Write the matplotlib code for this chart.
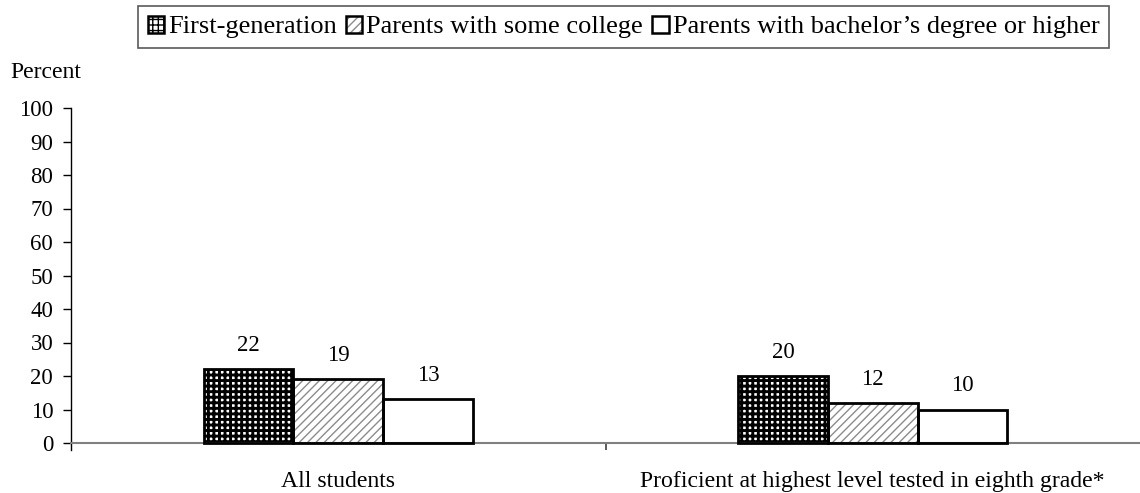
import matplotlib
matplotlib.use("Agg")
import matplotlib.pyplot as plt
import numpy as np
from matplotlib.patches import Patch
from matplotlib.legend_handler import HandlerTuple

plt.rcParams["font.family"] = ["Liberation Serif", "DejaVu Serif"]

categories = ["All students", "Proficient at highest level tested in eighth grade*"]
series_names = ["First-generation", "Parents with some college",
                "Parents with bachelor\u2019s degree or higher"]
first_gen = [22, 20]
some_college = [19, 12]
bachelor = [13, 10]
series_values = [first_gen, some_college, bachelor]
y_ticks = list(range(0, 101, 10))

FS_TICK = 16.5
FS_VALUE = 16.5
FS_CAT = 17.1
FS_LEG = 19

W, H = 1140, 493
fig = plt.figure(figsize=(W / 100, H / 100), dpi=100)
ax = fig.add_axes([71 / W, 1 - 449.7 / H, 1 - 71 / W, (449.7 - 108) / H])

x = np.arange(len(categories))
bw = 0.168
offsets = [-bw, 0, bw]

# hatch styles: (hatch, hatch colour, hatch linewidth)
styles = [("+++", "black", 2.1), ("////", "#8c8c8c", 1.0), (None, None, 1.0)]

for vals, off, (hatch, hcol, hlw) in zip(series_values, offsets, styles):
    if hatch:
        with plt.rc_context({"hatch.linewidth": hlw}):
            ax.bar(x + off, vals, bw, facecolor="white", edgecolor=hcol,
                   hatch=hatch, linewidth=0, zorder=2)
    ax.bar(x + off, vals, bw, fill=False, edgecolor="black",
           linewidth=2.0, zorder=3)
    for xi, v in zip(x + off, vals):
        ax.annotate(f"{v}", xy=(xi, v), xytext=(0, 13), textcoords="offset points",
                    ha="center", va="baseline", fontsize=FS_VALUE)

ax.set_xlim(-0.5, 1.5)
ax.set_ylim(-2, 100)
ax.set_yticks(y_ticks)
ax.set_yticklabels([str(t) for t in y_ticks], fontsize=FS_TICK)
ax.tick_params(axis="y", length=5.8, width=1, pad=7, direction="out", colors="black")

ax.set_xticks([0.5])
ax.set_xticklabels([""])
ax.tick_params(axis="x", length=5, width=1.2, color="#404040", direction="out")

for s in ["top", "right"]:
    ax.spines[s].set_visible(False)
ax.spines["bottom"].set_position(("data", 0))
ax.spines["bottom"].set_color("#808080")
ax.spines["bottom"].set_linewidth(1.5)
ax.spines["left"].set_color("black")
ax.spines["left"].set_linewidth(1)

for xi, lab in zip(x, categories):
    ax.annotate(lab, xy=(xi, 0), xytext=(0, -31.5), textcoords="offset points",
                ha="center", va="baseline", fontsize=FS_CAT)

fig.text(10 / W, 1 - 78 / H, "Percent", fontsize=FS_CAT, va="baseline", ha="left")

# legend handles: hatched fill overlaid by a black outline
handles = []
for hatch, hcol, hlw in styles:
    parts = []
    if hatch:
        with plt.rc_context({"hatch.linewidth": hlw}):
            parts.append(Patch(facecolor="white", edgecolor=hcol, hatch=hatch, linewidth=0))
    parts.append(Patch(fill=False, edgecolor="black", linewidth=1.8))
    handles.append(tuple(parts))

leg = fig.legend(handles, series_names, loc="center", bbox_to_anchor=(623.5 / W, 1 - 27 / H),
                 ncol=3, fontsize=FS_LEG, frameon=True, fancybox=False, shadow=False,
                 handlelength=0.62, handleheight=0.62, handletextpad=0.15,
                 columnspacing=0.35, borderpad=0.35, borderaxespad=0,
                 handler_map={tuple: HandlerTuple(ndivide=1, pad=0)})
leg.get_frame().set_edgecolor("#303030")
leg.get_frame().set_linewidth(1.2)

fig.savefig("out.png", dpi=100)
